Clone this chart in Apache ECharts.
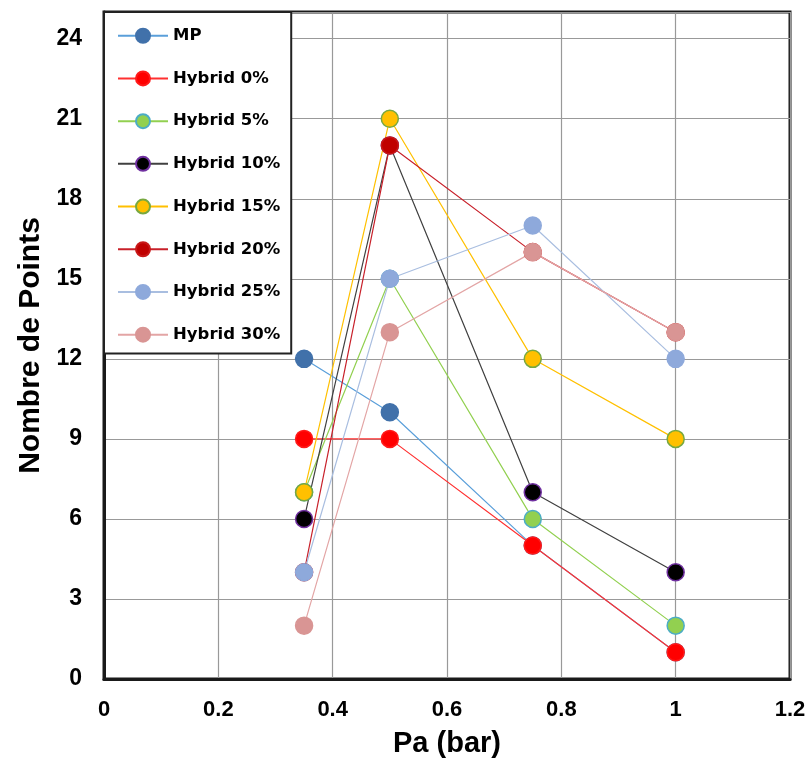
<!DOCTYPE html>
<html>
<head>
<meta charset="utf-8">
<script src="https://cdn.jsdelivr.net/npm/echarts@6/dist/echarts.min.js"></script>
<style>html,body{margin:0;padding:0;background:#fff;}#chart{width:811px;height:758px;}</style>
</head>
<body>
<div id="chart"></div>
<script>
const xValues = [0.35, 0.5, 0.75, 1];
const seriesNames = ['MP', 'Hybrid 0%', 'Hybrid 5%', 'Hybrid 10%', 'Hybrid 15%', 'Hybrid 20%', 'Hybrid 25%', 'Hybrid 30%'];
const mp = [12, 10, 5, 1];
const hybrid0 = [9, 9, 5, 1];
const hybrid5 = [7, 15, 6, 2];
const hybrid10 = [6, 20, 7, 4];
const hybrid15 = [7, 21, 12, 9];
const hybrid20 = [4, 20, 16, 13];
const hybrid25 = [4, 15, 17, 12];
const hybrid30 = [2, 13, 16, 13];
const xTickLabels = ['0', '0.2', '0.4', '0.6', '0.8', '1', '1.2'];
const yTickLabels = ['0', '3', '6', '9', '12', '15', '18', '21', '24'];

const allValues = [mp, hybrid0, hybrid5, hybrid10, hybrid15, hybrid20, hybrid25, hybrid30];
const styles = [
  {fill: '#4171AA', border: '#4171AA', line: '#5A9FDA'},
  {fill: '#FF0000', border: '#FF1A1A', line: '#FF3030'},
  {fill: '#92D050', border: '#4BACC6', line: '#92D050'},
  {fill: '#000000', border: '#7030A0', line: '#404040'},
  {fill: '#FFC000', border: '#77A840', line: '#FFC000'},
  {fill: '#C00000', border: '#C81818', line: '#C8202A'},
  {fill: '#8EA9DB', border: '#8EA9DB', line: '#A9BEE0'},
  {fill: '#D99594', border: '#D99594', line: '#E3A5A5'}
];

const series = allValues.map((vals, i) => ({
  name: seriesNames[i],
  type: 'line',
  data: vals.map((v, j) => [xValues[j], v]),
  symbol: 'circle',
  symbolSize: 17,
  lineStyle: {color: styles[i].line, width: 1.2},
  itemStyle: {color: styles[i].fill, borderColor: styles[i].border, borderWidth: 1.5},
  emphasis: {disabled: true},
  animation: false
}));

const chart = echarts.init(document.getElementById('chart'), null, {renderer: 'canvas'});
chart.setOption({
  backgroundColor: '#fff',
  animation: false,
  grid: {left: 104, right: 21, top: 12, bottom: 79, outerBoundsMode: 'none', containLabel: false,
    show: true, borderColor: '#1a1a1a', borderWidth: 3, backgroundColor: 'transparent'},
  legend: {
    orient: 'vertical',
    left: 104,
    top: 12,
    itemWidth: 50,
    itemHeight: 17.5,
    itemGap: 25.2,
    padding: [15, 11, 10, 13],
    backgroundColor: '#fff',
    borderColor: '#222',
    borderWidth: 2,
    data: seriesNames,
    textStyle: {fontFamily: 'DejaVu Sans', fontWeight: 'bold', fontSize: 16.5, lineHeight: 17.5, color: '#000'}
  },
  xAxis: {
    type: 'value', min: 0, max: 1.2, interval: 0.2,
    name: 'Pa (bar)', nameLocation: 'middle', nameGap: 50,
    nameTextStyle: {fontFamily: 'Liberation Sans', fontWeight: 'bold', fontSize: 29, color: '#000'},
    axisLine: {show: true, lineStyle: {color: '#1a1a1a', width: 3}},
    axisTick: {show: false},
    axisLabel: {margin: 20, fontFamily: 'Liberation Sans', fontWeight: 'bold', fontSize: 22, color: '#000',
      formatter: v => xTickLabels[Math.round(v / 0.2)]},
    splitLine: {show: true, lineStyle: {color: '#999', width: 1.2}}
  },
  yAxis: {
    type: 'value', min: 0, max: 25, interval: 3,
    name: 'Nombre de Points', nameLocation: 'middle', nameGap: 58,
    nameTextStyle: {fontFamily: 'Liberation Sans', fontWeight: 'bold', fontSize: 30, color: '#000'},
    axisLine: {show: true, lineStyle: {color: '#1a1a1a', width: 3}},
    axisTick: {show: false},
    axisLabel: {margin: 22, fontFamily: 'Liberation Sans', fontWeight: 'bold', fontSize: 23, color: '#000',
      formatter: v => (v % 3 === 0 && v / 3 < yTickLabels.length) ? yTickLabels[v / 3] : ''},
    splitLine: {show: true, lineStyle: {color: '#999', width: 1.2}}
  },
  series: series
});
</script>
</body>
</html>
